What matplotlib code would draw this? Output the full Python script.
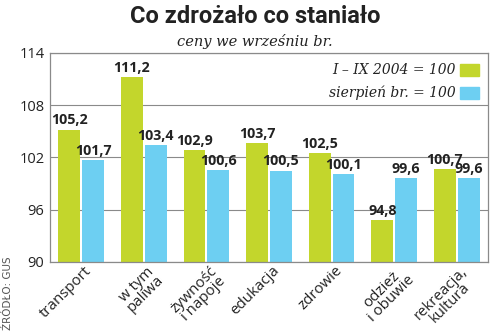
import matplotlib
matplotlib.use("Agg")
import matplotlib.pyplot as plt
import numpy as np

categories = ["transport", "w tym\npaliwa", "żywność\ni napoje", "edukacja",
              "zdrowie", "odzież\ni obuwie", "rekreacja,\nkultura"]
yearly = [105.2, 111.2, 102.9, 103.7, 102.5, 94.8, 100.7]     # I-IX 2004 = 100
monthly = [101.7, 103.4, 100.6, 100.5, 100.1, 99.6, 99.6]     # sierpień br. = 100
yearly_labels = ["105,2", "111,2", "102,9", "103,7", "102,5", "94,8", "100,7"]
monthly_labels = ["101,7", "103,4", "100,6", "100,5", "100,1", "99,6", "99,6"]
yticks = [90, 96, 102, 108, 114]

GREEN = "#c3d62c"
BLUE = "#6dcff2"
TEXT = "#222222"
GRID = "#8a8a8a"

plt.rcParams["font.family"] = ["Open Sans", "DejaVu Sans"]

fig = plt.figure(figsize=(5.0, 3.35), dpi=100)
ax = fig.add_axes([0.1, 0.218, 0.876, 0.624])

x = np.arange(len(categories))
w = 0.35
off = 0.19
ax.bar(x - off, np.array(yearly) - 90, w, bottom=90, color=GREEN, zorder=2)
ax.bar(x + off, np.array(monthly) - 90, w, bottom=90, color=BLUE, zorder=2)

for xi, v, lab in zip(x - off, yearly, yearly_labels):
    ax.annotate(lab, (xi, v), xytext=(0, 1.5), textcoords="offset points",
                ha="center", va="bottom", fontsize=10.3, fontweight="bold", color=TEXT)
for xi, v, lab in zip(x + off, monthly, monthly_labels):
    ax.annotate(lab, (xi, v), xytext=(0, 1.5), textcoords="offset points",
                ha="center", va="bottom", fontsize=10.3, fontweight="bold", color=TEXT)

ax.set_xlim(-0.5, len(categories) - 0.5)
ax.set_ylim(90, 114)
ax.set_yticks(yticks)
ax.set_yticklabels([str(t) for t in yticks], fontsize=10.5, color=TEXT)
ax.yaxis.grid(True, color=GRID, linewidth=0.8, zorder=1)
ax.set_axisbelow(True)
ax.tick_params(axis="y", length=0, pad=4)
ax.tick_params(axis="x", length=0, pad=1)
ax.set_xticks(x + 0.05)
ax.set_xticklabels(categories, rotation=45, ha="right", va="top",
                   rotation_mode="anchor", fontsize=10.8, color=TEXT,
                   multialignment="center", linespacing=0.85)
for sp in ax.spines.values():
    sp.set_color(GRID)
    sp.set_linewidth(0.9)

# title, subtitle
fig.text(0.51, 0.95, "Co zdrożało co staniało", ha="center", va="center",
         fontsize=17, fontweight="bold", color=TEXT, family=["Roboto", "DejaVu Sans"])
fig.text(0.51, 0.875, "ceny we wrześniu br.", ha="center", va="center",
         fontsize=10.5, style="italic", family=["DejaVu Serif"], color=TEXT)

# legend
fig.text(0.912, 0.791, "I – IX 2004 = 100", ha="right", va="center",
         fontsize=10, style="italic", family=["DejaVu Serif"], color=TEXT)
fig.text(0.912, 0.722, "sierpień br. = 100", ha="right", va="center",
         fontsize=10, style="italic", family=["DejaVu Serif"], color=TEXT)
fig.patches.append(plt.Rectangle((0.919, 0.773), 0.038, 0.036, color=GREEN,
                                 transform=fig.transFigure, figure=fig))
fig.patches.append(plt.Rectangle((0.919, 0.704), 0.038, 0.036, color=BLUE,
                                 transform=fig.transFigure, figure=fig))

fig.text(0.016, 0.015, "ŹRÓDŁO: GUS", rotation=90, ha="center", va="bottom",
         fontsize=7.5, color="#555555", family=["Liberation Sans Narrow", "DejaVu Sans"])

fig.savefig("out.png", dpi=100)
